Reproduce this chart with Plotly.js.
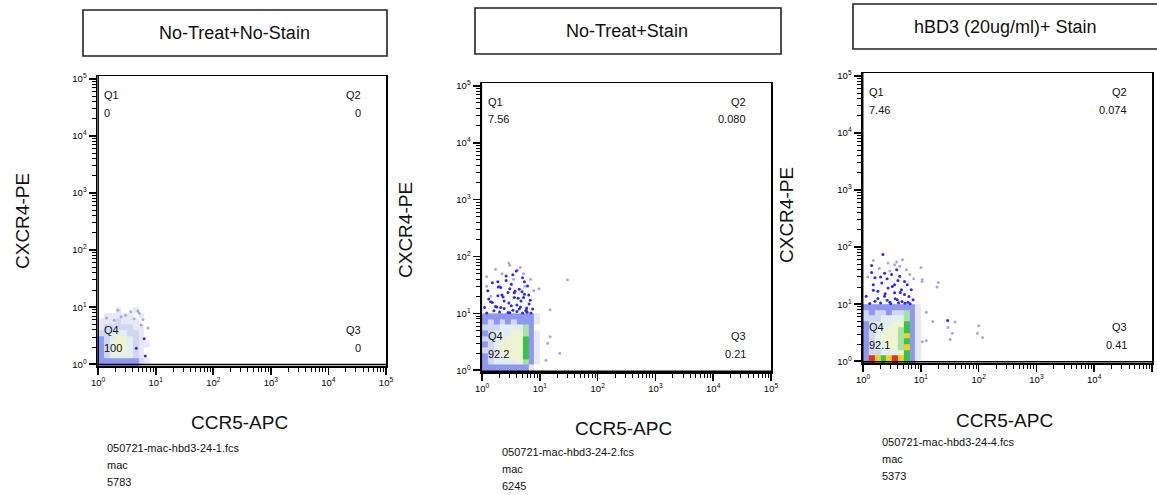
<!DOCTYPE html>
<html>
<head>
<meta charset="utf-8">
<script src="https://cdn.plot.ly/plotly-3.0.1.min.js"></script>
<style>html,body{margin:0;padding:0;background:#fff;}#chart{width:1157px;height:495px;}</style>
</head>
<body>
<div id="chart"></div>
<script>
// ---------- text ----------
const panelTitles = ['No-Treat+No-Stain', 'No-Treat+Stain', 'hBD3 (20ug/ml)+ Stain'];
const xAxisTitle = 'CCR5-APC';
const yAxisTitle = 'CXCR4-PE';
const fileNames = ['050721-mac-hbd3-24-1.fcs', '050721-mac-hbd3-24-2.fcs', '050721-mac-hbd3-24-4.fcs'];
const sampleNames = ['mac', 'mac', 'mac'];
const eventCounts = ['5783', '6245', '5373'];
const quadNames = ['Q1', 'Q2', 'Q3', 'Q4'];
const q1Values = ['0', '7.56', '7.46'];
const q2Values = ['0', '0.080', '0.074'];
const q3Values = ['0', '0.21', '0.41'];
const q4Values = ['100', '92.2', '92.1'];
const tickValues = [1, 10, 100, 1000, 10000, 100000];
const tickLabels = ['10<sup>0</sup>', '10<sup>1</sup>', '10<sup>2</sup>', '10<sup>3</sup>', '10<sup>4</sup>', '10<sup>5</sup>'];
const minorTickValues = [2, 3, 4, 5, 6, 7, 8, 9, 20, 30, 40, 50, 60, 70, 80, 90,
  200, 300, 400, 500, 600, 700, 800, 900, 2000, 3000, 4000, 5000, 6000, 7000, 8000, 9000,
  20000, 30000, 40000, 50000, 60000, 70000, 80000, 90000];

// ---------- gates (data units) ----------
const gateX = [10, 9.3, 9.6];
const gateY = [9.8, 9.2, 9.5];

// ---------- density grid (bin edges in data units) ----------
const binEdgesX = [0.95, 1.26, 1.58, 2.0, 2.51, 3.16, 3.98, 5.01, 6.31, 7.94, 10];
const binEdgesY = [0.93, 1.26, 1.58, 2.0, 2.51, 3.16, 3.98, 5.01, 6.31, 7.94, 10];
// density classes (0 = empty)
const classColors = ['#e7e7f6', '#cfd8f0', '#e3eef2', '#eef4d2', '#a6e2a2', '#3cc24a', '#8f98f0', '#f0d21e', '#e03322'];
const density1 = [
  [7,7,7,7,7,7,7,2,1,0],
  [7,2,3,3,3,3,2,1,0,0],
  [7,2,3,4,4,3,2,1,0,0],
  [7,2,4,4,4,3,2,1,1,0],
  [7,2,3,4,4,3,2,1,0,0],
  [2,2,3,3,3,2,2,1,0,0],
  [1,2,2,2,2,2,1,1,0,0],
  [1,1,1,2,1,1,1,0,0,0],
  [0,1,1,1,1,1,0,1,0,0],
  [0,0,0,1,0,0,1,0,0,0]
];
const density2 = [
  [7,7,7,7,7,7,7,7,1,0],
  [7,2,3,3,3,3,4,5,7,1],
  [7,2,3,3,4,4,4,6,7,1],
  [2,2,3,4,4,4,4,6,7,1],
  [7,2,3,4,4,4,4,6,7,1],
  [2,2,3,3,4,4,4,6,7,1],
  [7,2,3,3,3,4,4,5,7,1],
  [2,2,2,3,3,3,3,5,7,0],
  [7,2,7,2,7,2,7,7,7,1],
  [7,7,7,7,7,7,7,7,7,1]
];
const density3 = [
  [7,9,8,6,8,9,8,6,7,1],
  [7,2,2,3,3,3,4,6,7,1],
  [7,2,3,3,4,4,5,8,7,1],
  [7,2,3,4,4,4,5,6,7,1],
  [7,2,3,4,4,4,5,8,7,1],
  [7,2,3,3,4,4,5,6,7,1],
  [7,2,3,3,3,4,4,6,7,1],
  [2,2,2,3,3,3,3,5,7,1],
  [2,7,2,2,7,2,2,5,7,1],
  [7,7,7,7,7,7,7,7,7,1]
];

// ---------- sparse events ----------
const p1BlueX = [6.3, 6.6, 4.6];
const p1BlueY = [2.8, 1.4, 1.9];
const p1LightX = [3.7, 5.2, 2.5, 1.9, 5.6, 7.3, 3.0, 4.2, 1.4, 2.2, 6.0, 4.9];
const p1LightY = [8.3, 7.8, 6.8, 5.9, 4.9, 4.3, 7.2, 6.3, 6.5, 8.8, 6.1, 8.6];

const p2BlueX = [3.9, 2.6, 5.0, 1.5, 3.2, 6.1, 2.1, 4.4, 1.25, 2.8, 5.4, 1.87, 3.6, 2.4, 4.7, 1.5, 6.5, 3.2, 2.1, 4.4, 1.1, 5.7, 1.6, 2.8, 7.5, 3.6, 1.87, 5.4, 2.3, 4.0, 3.0, 1.3, 6.8, 2.6, 4.9, 1.8, 3.4, 5.9,
  1.2, 2.0, 3.0, 4.0, 5.0, 6.0, 1.7, 2.4, 3.4, 4.6, 5.8, 7.0, 1.4, 2.9, 4.2, 2.2, 3.7, 5.2, 6.4, 1.9];
const p2BlueY = [55.6, 45.6, 42.5, 34.7, 32.6, 30.4, 28.5, 26.7, 25, 23.3, 21.8, 20.4, 19, 16.6, 16.6, 15.5, 14.6, 13.6, 12.7, 11.9, 12.7, 11.1, 11.1, 10.4, 11.9, 23, 36, 36, 19.5, 14, 27, 18, 17, 38, 24, 13, 48, 12.5,
  10.2, 10.6, 10.3, 10.8, 10.2, 10.5, 13.2, 12.2, 11.4, 13, 11.5, 10.2, 16, 15.2, 18.5, 21, 24.5, 19, 21, 29];
const p2LightX = [2.9, 1.7, 4.6, 2.2, 6.9, 1.2, 3.5, 5.2, 2.0, 7.8, 1.4, 4.1, 9.6, 15, 30, 15, 22, 12.7, 13.6, 3.0, 5.5, 1.2];
const p2LightY = [77, 60, 64, 50, 40, 44, 40, 50, 30, 25, 20, 58, 27, 11.6, 39, 3.9, 2.0, 1.5, 3.0, 70, 30, 30];

const p3BlueX = [2.2, 1.4, 1.4, 2.35, 3.1, 4.3, 1.6, 5.2, 2.1, 3.5, 1.5, 2.7, 4.6, 6.8, 1.8, 3.5, 5.2, 2.35, 1.13, 3.9, 7.3, 1.6, 2.9, 6.0, 4.0, 2.6, 29,
  1.3, 2.0, 3.0, 4.1, 5.3, 6.5, 1.8, 2.6, 3.6, 4.7, 6.2, 1.5, 2.4, 3.2, 4.4, 2.0, 3.8, 5.8];
const p3BlueY = [74, 47.5, 36, 35, 33, 31, 29, 25, 23.6, 22, 22, 19.3, 18, 18, 16.9, 15.8, 14.8, 13.8, 13.8, 12, 12, 11.3, 10.8, 10.8, 26, 28, 5.2,
  10.3, 10.5, 10.2, 10.6, 10.4, 10.2, 12.6, 11.7, 12.4, 11.2, 13.6, 17.5, 15.2, 20.5, 16, 30, 40, 22];
const p3LightX = [2.7, 3.5, 4.3, 6.4, 1.9, 2.9, 1.2, 5.6, 3.8, 10, 10.5, 20, 19, 10.5, 32, 4.8, 7.5, 1.5, 12.4, 16, 39, 29.5, 35, 100, 95, 117, 10.6, 12.4];
const p3LightY = [52.6, 49, 46, 33, 42, 38, 30, 40, 55, 44, 27, 24, 20, 25, 2.4, 60, 28, 58, 7.2, 5.0, 4.9, 3.9, 3.1, 4.2, 3.1, 2.6, 2.2, 2.3];

// ---------- build ----------
const FONT = 'Liberation Sans, Arial, Helvetica, sans-serif';
const W = 1157, H = 495;
const px = v => v / W;
const py = v => 1 - v / H;

const nC = classColors.length;
const colorscale = [];
classColors.forEach((c, k) => { colorscale.push([k / nC, c]); colorscale.push([(k + 1) / nC, c]); });

const densities = [density1, density2, density3];
const blues = [[p1BlueX, p1BlueY], [p2BlueX, p2BlueY], [p3BlueX, p3BlueY]];
const lights = [[p1LightX, p1LightY], [p2LightX, p2LightY], [p3LightX, p3LightY]];

const domainsX = [[px(97), px(386)], [px(481), px(771)], [px(862), px(1152)]];
const domainsY = [[py(366), py(76)], [py(372), py(83)], [py(363), py(73)]];

const traces = [];
const layout = {
  width: W, height: H,
  margin: {l: 0, r: 0, t: 0, b: 0},
  paper_bgcolor: '#fff', plot_bgcolor: '#fff',
  showlegend: false,
  font: {family: FONT, color: '#000'},
  shapes: [], annotations: []
};

for (let i = 0; i < 3; i++) {
  const s = i === 0 ? '' : String(i + 1);
  const xa = 'x' + s, ya = 'y' + s;
  const axBase = {
    type: 'log',
    tickmode: 'array', tickvals: tickValues, ticktext: tickLabels,
    ticks: 'outside', ticklen: 7, tickwidth: 1.6, tickcolor: '#000',
    minor: {tickmode: 'array', tickvals: minorTickValues, ticks: 'outside', ticklen: 4, tickwidth: 1, tickcolor: '#000', showgrid: false},
    showline: true, linecolor: '#000', linewidth: 1.5, mirror: true,
    showgrid: false, zeroline: false,
    tickfont: {family: FONT, size: 9.5, color: '#000'},
    fixedrange: true
  };
  layout['xaxis' + s] = Object.assign({}, axBase, {domain: domainsX[i], range: [-0.02, 5.0], anchor: ya});
  layout['yaxis' + s] = Object.assign({}, axBase, {domain: domainsY[i], range: [-0.03, 5.05], anchor: xa});

  traces.push({
    type: 'heatmap', xaxis: xa, yaxis: ya,
    x: binEdgesX, y: binEdgesY,
    z: densities[i].map(r => r.map(v => v === 0 ? null : v)),
    colorscale: colorscale, zmin: 0.5, zmax: nC + 0.5,
    showscale: false, hoverinfo: 'skip', zsmooth: false
  });
  traces.push({
    type: 'scatter', mode: 'markers', xaxis: xa, yaxis: ya,
    x: lights[i][0], y: lights[i][1],
    marker: {color: '#a9a9e0', size: 3, line: {width: 0}}, hoverinfo: 'skip'
  });
  traces.push({
    type: 'scatter', mode: 'markers', xaxis: xa, yaxis: ya,
    x: blues[i][0], y: blues[i][1],
    marker: {color: '#2a2af2', size: 3, line: {width: 0}}, hoverinfo: 'skip'
  });

  // quadrant gates
  layout.shapes.push({type: 'line', xref: xa, yref: ya + ' domain',
    x0: Math.log10(gateX[i]), x1: Math.log10(gateX[i]), y0: 0, y1: 1, line: {color: '#000', width: 1.5}});
  layout.shapes.push({type: 'line', xref: xa + ' domain', yref: ya,
    x0: 0, x1: 1, y0: Math.log10(gateY[i]), y1: Math.log10(gateY[i]), line: {color: '#000', width: 1.5}});

  // quadrant labels
  const qa = (txt, x, y, anchor) => layout.annotations.push({
    text: txt, xref: xa + ' domain', yref: ya + ' domain', x: x, y: y,
    xanchor: anchor, yanchor: 'middle', showarrow: false,
    font: {family: FONT, size: 11, color: '#111'}
  });
  qa(quadNames[0], 0.018, 0.935, 'left');  qa(q1Values[i], 0.018, 0.874, 'left');
  qa(quadNames[1], 0.92, 0.935, 'right');  qa(q2Values[i], 0.92, 0.874, 'right');
  qa(quadNames[2], 0.92, 0.125, 'right');  qa(q3Values[i], 0.92, 0.063, 'right');
  qa(quadNames[3], 0.018, 0.125, 'left');  qa(q4Values[i], 0.018, 0.063, 'left');
}

// title boxes
const boxes = [[83, 387, 10, 56], [475, 781, 8, 54], [853, 1170, 4, 49]];
const titleCenters = [[234, 33], [627, 31], [1005, 27]];
boxes.forEach((b, i) => {
  layout.shapes.push({type: 'rect', xref: 'paper', yref: 'paper',
    x0: px(b[0]), x1: px(b[1]), y0: py(b[3]), y1: py(b[2]),
    line: {color: '#222', width: 1.6}, fillcolor: 'rgba(0,0,0,0)'});
  layout.annotations.push({text: panelTitles[i], xref: 'paper', yref: 'paper',
    x: px(titleCenters[i][0]), y: py(titleCenters[i][1]), xanchor: 'center', yanchor: 'middle',
    showarrow: false, font: {family: FONT, size: 18, color: '#111'}});
});

// axis titles
const xTitlePos = [[239, 422], [623, 428], [1004, 420]];
const yTitlePos = [[22, 221], [405, 230], [786, 215]];
for (let i = 0; i < 3; i++) {
  layout.annotations.push({text: xAxisTitle, xref: 'paper', yref: 'paper',
    x: px(xTitlePos[i][0]), y: py(xTitlePos[i][1]), xanchor: 'center', yanchor: 'middle',
    showarrow: false, font: {family: FONT, size: 19, color: '#111'}});
  layout.annotations.push({text: yAxisTitle, xref: 'paper', yref: 'paper', textangle: -90,
    x: px(yTitlePos[i][0]), y: py(yTitlePos[i][1]), xanchor: 'center', yanchor: 'middle',
    showarrow: false, font: {family: FONT, size: 19, color: '#111'}});
}

// sample info
const infoPos = [[105, 448], [500, 452], [880, 442]];
for (let i = 0; i < 3; i++) {
  [fileNames[i], sampleNames[i], eventCounts[i]].forEach((t, k) => {
    layout.annotations.push({text: t, xref: 'paper', yref: 'paper',
      x: px(infoPos[i][0]), y: py(infoPos[i][1] + 17 * k), xanchor: 'left', yanchor: 'middle',
      showarrow: false, font: {family: FONT, size: 11, color: '#111'}});
  });
}

Plotly.newPlot('chart', traces, layout, {staticPlot: true, displayModeBar: false});
</script>
</body>
</html>
